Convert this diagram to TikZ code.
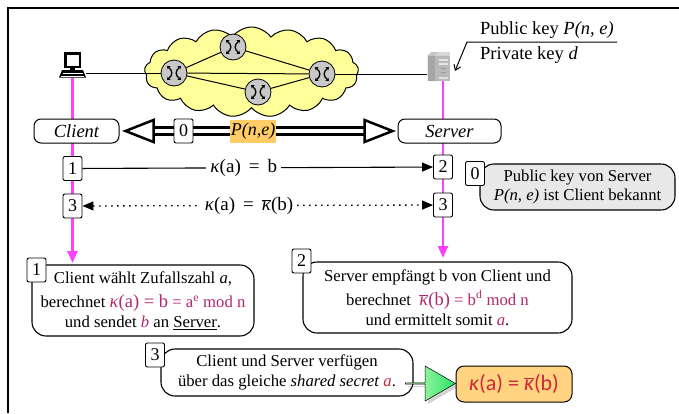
\documentclass[tikz,border=0pt]{standalone}
\usepackage{fontspec}
\setmainfont{Liberation Serif}
\newfontfamily\formulasans{Carlito}
\usetikzlibrary{arrows.meta,shapes.symbols,shapes.arrows,shadows}

\definecolor{pinkline}{RGB}{255,64,255}
\definecolor{cloudfill}{RGB}{255,255,153}
\definecolor{keybg}{RGB}{255,204,102}
\definecolor{notegray}{RGB}{232,232,232}
\definecolor{formula}{RGB}{176,40,110}
\definecolor{secret}{RGB}{205,40,60}
\definecolor{resultfill}{RGB}{255,211,127}
\definecolor{routergray}{RGB}{200,200,200}
\definecolor{arrowlight}{RGB}{205,255,190}
\definecolor{arrowdark}{RGB}{40,225,100}

\newcommand{\fs}[2]{\fontsize{#1}{#2}\selectfont}
\newcommand{\kap}{\textit{κ}}
\newcommand{\kapbar}{$\overline{\hbox{\itshape κ}}$}

\begin{document}
\begin{tikzpicture}[x=1pt,y=-1pt,
  numbox/.style={draw, fill=white, rounded corners=2pt, line width=0.9pt,
    minimum width=19pt, minimum height=24pt, inner sep=0pt, font=\fs{18}{18}},
  rolebox/.style={draw, fill=white, rounded corners=7pt, line width=1pt,
    minimum height=24pt, inner sep=0pt, font=\fs{18.5}{20}\itshape},
  note/.style={draw, fill=white, rounded corners=14pt, line width=1.1pt,
    align=center, inner sep=0pt, font=\fs{16.7}{20}},
  router/.style={circle, draw, fill=routergray, line width=0.8pt,
    minimum size=26pt, inner sep=0pt},
  netlink/.style={line width=1pt},
  life/.style={pinkline, line width=2.5pt, -{Triangle[length=12pt,width=10pt]}},
  msg/.style={line width=1.1pt, -{Triangle[length=11pt,width=9pt]}},
  dotmsg/.style={line width=1.3pt, dash pattern=on 1.5pt off 4.5pt,
    {Triangle[length=11pt,width=9pt]}-{Triangle[length=11pt,width=9pt]}},
  msglabel/.style={fill=white, inner sep=4pt, font=\fs{19}{19}},
  xsym/.pic={
    \draw[line width=1.3pt, {Stealth[length=3pt,width=4.5pt]}-{Stealth[length=3pt,width=4.5pt]}]
      (-7,-7) .. controls (-1,-2) and (-1,2) .. (-7,7);
    \draw[line width=1.3pt, {Stealth[length=3pt,width=4.5pt]}-{Stealth[length=3pt,width=4.5pt]}]
      (7,-7) .. controls (1,-2) and (1,2) .. (7,7);
  },
  pcicon/.pic={
    \fill (-8.5,-13) rectangle (8.5,3);
    \fill[white] (-6,-10.5) rectangle (6,0.5);
    \fill (-2.5,3) rectangle (2.5,5);
    \fill (-10.5,5) -- (10.5,5) -- (13.5,12.5) -- (-13.5,12.5) -- cycle;
    \draw[white, line width=0.8pt] (-10,8.5) -- (10,8.5);
    \draw[white, line width=0.6pt] (-11.5,10.8) -- (11.5,10.8);
  },
  srvicon/.pic={
    \fill[gray!45] (-11,-11) -- (-7,-14.5) -- (11,-14.5) -- (11,11) -- (7,14.5) -- (-11,14.5) -- cycle;
    \fill[gray!70] (-11,-11) -- (-4,-11) -- (-4,14.5) -- (-11,14.5) -- cycle;
    \fill[gray!55] (-4,-11) -- (11,-11) -- (11,14.5) -- (-4,14.5) -- cycle;
    \fill[gray!30] (-4,-11) -- (0,-14.5) -- (11,-14.5) -- (11,-11) -- cycle;
    \fill[gray!20] (0,-8) rectangle (9,-5.5);
    \fill[gray!20] (0,-3.5) rectangle (9,-1.5);
    \fill[gray!80] (2,1) rectangle (7,2.5);
    \fill[gray!80] (2,5) rectangle (7,6.5);
    \fill[gray!25] (0,10) rectangle (9,12);
  }
]
\useasboundingbox (0,0) rectangle (679,413);

% outer frame
\draw[line width=1.3pt] (8,413) -- (8,8) -- (679,8);

% network cloud with routers
\node[cloud, cloud puffs=17, cloud puff arc=110, aspect=2.4, draw, fill=cloudfill,
  line width=1pt, minimum width=214pt, minimum height=90pt] (net) at (251.5,72) {};
\node[router] (r1) at (174,73) {};
\node[router] (r2) at (233,47) {};
\node[router] (r3) at (258,92) {};
\node[router] (r4) at (322,74) {};
\foreach \r in {r1,r2,r3,r4} \pic at (\r) {xsym};

% hosts
\node[inner sep=0pt, minimum width=27pt, minimum height=26pt] (pc) at (72.5,65) {};
\pic at (pc) {pcicon};
\node[inner sep=0pt, minimum width=23pt, minimum height=29pt] (srv) at (438.5,66.5) {};
\pic at (srv) {srvicon};

\draw[netlink] (pc.east |- r1) -- (r1);
\draw[netlink] (r1) -- (r2);
\draw[netlink] (r1) -- (r3);
\draw[netlink] (r1) -- (r4);
\draw[netlink] (r2) -- (r4);
\draw[netlink] (r3) -- (r4);
\draw[netlink] (r4) -- (srv.west |- r4);

% key annotation of the server
\node[anchor=base west, inner sep=0pt, font=\fs{18.5}{18.5}] (pub) at (480,34) {Public key \textit{P(n, e)}};
\node[anchor=base west, inner sep=0pt, font=\fs{18.5}{18.5}] (priv) at (480,59) {Private key \textit{d}};
\coordinate (keyend) at (617,42);
\coordinate (keybend) at (467,42);
\coordinate (keytip) at (455,71);
\draw[line width=1pt, -{Straight Barb[length=5pt,width=7pt]}] (keyend) -- (keybend) -- (keytip);

% lifelines
\coordinate (cEnd) at (72.5,263);
\coordinate (sEnd) at (443,258);
\draw[life] (pc.south) -- (cEnd);
\draw[life] (srv.south -| sEnd) -- (sEnd);

% roles and public key transfer
\node[rolebox, minimum width=85pt] (cl) at (76.5,131) {Client};
\node[rolebox, minimum width=103pt] (sv) at (449.5,131) {Server};
\draw[line width=3pt, double=white, double distance=3.5pt]
  ([xshift=34pt]cl.east) -- ([xshift=-33pt]sv.west);
\draw[line width=2.5pt, fill=white, line join=miter]
  ([xshift=6pt]cl.east) -- ++(28,-11) -- ++(0,22) -- cycle;
\draw[line width=2.5pt, fill=white, line join=miter]
  ([xshift=-5pt]sv.west) -- ++(-28,-11) -- ++(0,22) -- cycle;
\node[numbox] (n0) at (183.5,131) {0};
\node[fill=keybg, inner sep=1pt, minimum height=23pt, font=\fs{18}{18}\itshape] (pk) at (253,131) {P(n,e)};

% message steps
\node[numbox] (n1) at (72.5,168.5) {1};
\node[numbox] (n2) at (443,167) {2};
\node[numbox] (n3l) at (72.5,206) {3};
\node[numbox] (n3r) at (443,205) {3};
\draw[msg] (n1) -- (n2) node[msglabel, pos=0.46] {\kap(a)\hspace{8pt}=\hspace{8pt}b};
\draw[dotmsg] (n3l) -- (n3r) node[msglabel, pos=0.475] {\kap(a)\hspace{8pt}=\hspace{8pt}\kapbar(b)};

% precondition note
\node[note, fill=notegray, minimum width=195pt, minimum height=46pt, font=\fs{16.7}{19}] (pre) at (577.5,187)
  {Public key von Server\\\textit{P(n, e)} ist Client bekannt};
\node[numbox] (n0g) at (475,173.5) {0};

% step descriptions
\node[note, minimum width=222pt, minimum height=71pt] (d1) at (143,300.5)
  {Client wählt Zufallszahl \textit{a},\\[4pt]
   berechnet {\color{formula}{\fs{18.5}{20}\kap(a) = b} = a\textsuperscript{e} mod n}\\
   und sendet {\color{formula}\textit{b}} an \underline{Server}.};
\node[numbox] (d1n) at (36.5,270) {1};

\node[note, minimum width=269pt, minimum height=71pt] (d2) at (437.5,297.5)
  {Server empfängt b von Client und\\[4pt]
   berechnet\ \ {\color{formula}{\fs{18.5}{20}\kapbar(b)} = b\textsuperscript{d} mod n}\\
   und ermittelt somit {\color{formula}\textit{a}}.};
\node[numbox] (d2n) at (301.5,261) {2};

\node[note, minimum width=252pt, minimum height=47pt] (d3) at (287,372.5)
  {Client und Server verfügen\\
   über das gleiche \textit{shared secret} {\color{secret}\textit{a}}.};
\node[numbox] (d3n) at (155,355) {3};

% result
\node[single arrow, draw, line width=0.5pt, left color=arrowlight, right color=arrowdark,
  minimum height=50pt, minimum width=35pt, single arrow head extend=8pt,
  single arrow tip angle=60, inner sep=0pt,
  drop shadow={shadow xshift=3pt, shadow yshift=-3pt, opacity=0.35}] (ga) at (430,383.5) {};
\node[draw, fill=resultfill, rounded corners=8pt, line width=1pt, minimum width=116pt,
  minimum height=36pt, text=secret, font=\formulasans\fs{22}{22}] (res) at (514,384)
  {\textit{κ}(a) = $\overline{\hbox{\itshape κ}}$(b)};
\end{tikzpicture}
\end{document}
